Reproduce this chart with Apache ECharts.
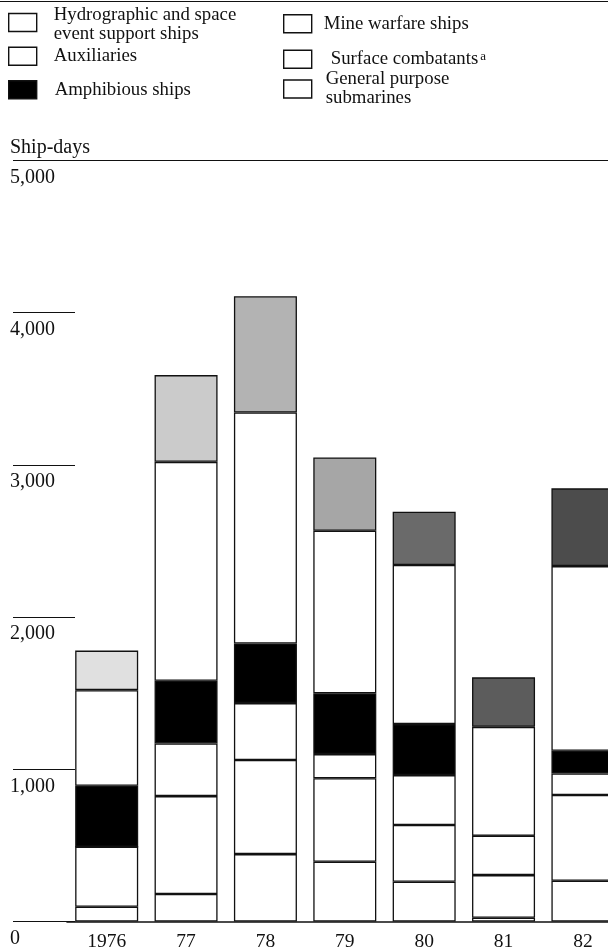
<!DOCTYPE html>
<html>
<head>
<meta charset="utf-8">
<script src="https://cdn.jsdelivr.net/npm/echarts@6/dist/echarts.min.js"></script>
<style>
  html, body { margin: 0; padding: 0; background: #fff; }
  #chart { width: 608px; height: 949px; }
</style>
</head>
<body>
<div id="chart"></div>
<script>
// Ship-days by fiscal year, stacked by ship type (bottom to top)
const years = ['1976', '77', '78', '79', '80', '81', '82'];
const submarines = [97, 181, 443, 393, 261, 25, 268];
const surfaceCombatants = [394, 643, 618, 548, 373, 280, 563];
const mineWarfare = [0, 346, 374, 159, 328, 258, 142];
const amphibious = [401, 412, 392, 399, 335, 0, 149];
const auxiliaries = [628, 1438, 1517, 1068, 1045, 716, 1213];
const hydrographic = [260, 570, 764, 482, 350, 325, 511];

// Shading of the hydrographic segment, year by year
const hydroShade = ['#e0e0e0', '#cbcbcb', '#b3b3b3', '#a6a6a6', '#6a6a6a', '#5c5c5c', '#4c4c4c'];

const FONT = '"Liberation Serif", "DejaVu Serif", serif';
const INK = '#111';

const chart = echarts.init(document.getElementById('chart'), null, { renderer: 'canvas' });

const border = { borderColor: INK, borderWidth: 1.3 };

function barSeries(name, data, color) {
  return {
    name: name,
    type: 'bar',
    stack: 'days',
    barWidth: 63,
    data: data,
    itemStyle: Object.assign({ color: color }, border),
    emphasis: { disabled: true },
    animation: false
  };
}

function legendItem(name, fill, left, top, pad) {
  return {
    data: [{ name: name, icon: 'rect', itemStyle: { color: fill, borderColor: INK, borderWidth: 1.4 } }],
    left: left,
    top: top,
    padding: 0,
    orient: 'vertical',
    itemWidth: 28,
    itemHeight: 18,
    selectedMode: false,
    formatter: function (n) {
      if (n === 'Surface combatants') return n + '{sup|a}';
      return n;
    },
    textStyle: {
      fontFamily: FONT,
      fontSize: 18.8,
      lineHeight: 19,
      color: INK,
      padding: pad,
      rich: {
        sup: { fontFamily: FONT, fontSize: 13, lineHeight: 19, verticalAlign: 'top', padding: [0, 0, 9, 2], color: INK }
      }
    }
  };
}

const option = {
  backgroundColor: '#fff',
  animation: false,
  title: {
    text: 'Ship-days',
    left: 10,
    top: 138,
    padding: 0,
    textStyle: { fontFamily: FONT, fontSize: 20, fontWeight: 'normal', color: INK }
  },
  legend: [
    legendItem('Hydrographic and space\nevent support ships', '#fff', 8, 1, [5, 0, 0, 12]),
    legendItem('Auxiliaries', '#fff', 8, 46.5, [0, 0, 0, 12]),
    legendItem('Amphibious ships', '#000', 8, 80, [0, 0, 0, 13]),
    legendItem('Mine warfare ships', '#fff', 283, 14, [0, 0, 0, 7]),
    legendItem('Surface combatants', '#fff', 283, 49.5, [0, 0, 0, 14]),
    legendItem('General purpose\nsubmarines', '#fff', 283, 70, [0, 0, 0, 9])
  ],
  graphic: [
    {
      type: 'line',
      shape: { x1: 0, y1: 1.5, x2: 608, y2: 1.5 },
      style: { stroke: INK, lineWidth: 1.2 },
      silent: true
    }
  ],
  grid: {
    left: 67,
    right: -14.6,
    top: 160.5,
    bottom: 27.5,
    containLabel: false,
    outerBoundsMode: 'none'
  },
  xAxis: [
    {
      type: 'category',
      data: years,
      axisLine: { show: true, lineStyle: { color: INK, width: 1.6 } },
      axisTick: { show: false },
      axisLabel: {
        fontFamily: FONT,
        fontSize: 19.5,
        color: INK,
        margin: 10
      }
    },
    {
      type: 'category',
      position: 'top',
      data: years,
      axisLine: { show: true, lineStyle: { color: INK, width: 1.2 } },
      axisTick: { show: false },
      axisLabel: { show: false }
    }
  ],
  yAxis: {
    type: 'value',
    min: 0,
    max: 5000,
    interval: 1000,
    offset: -8,
    axisLine: { show: false },
    axisTick: { show: true, inside: false, length: 62, lineStyle: { color: INK, width: 1.2 } },
    splitLine: { show: false },
    axisLabel: {
      fontFamily: FONT,
      fontSize: 20,
      color: INK,
      margin: 65,
      align: 'left',
      verticalAlign: 'top',
      padding: [7, 0, 0, 0],
      formatter: function (v) { return v.toLocaleString('en-US'); }
    }
  },
  series: [
    barSeries('General purpose\nsubmarines', submarines, '#fff'),
    barSeries('Surface combatants', surfaceCombatants, '#fff'),
    barSeries('Mine warfare ships', mineWarfare, '#fff'),
    barSeries('Amphibious ships', amphibious, '#000'),
    barSeries('Auxiliaries', auxiliaries, '#fff'),
    barSeries('Hydrographic and space\nevent support ships',
      hydrographic.map(function (v, i) { return { value: v, itemStyle: { color: hydroShade[i] } }; }),
      '#bbb')
  ]
};

chart.setOption(option);
</script>
</body>
</html>
